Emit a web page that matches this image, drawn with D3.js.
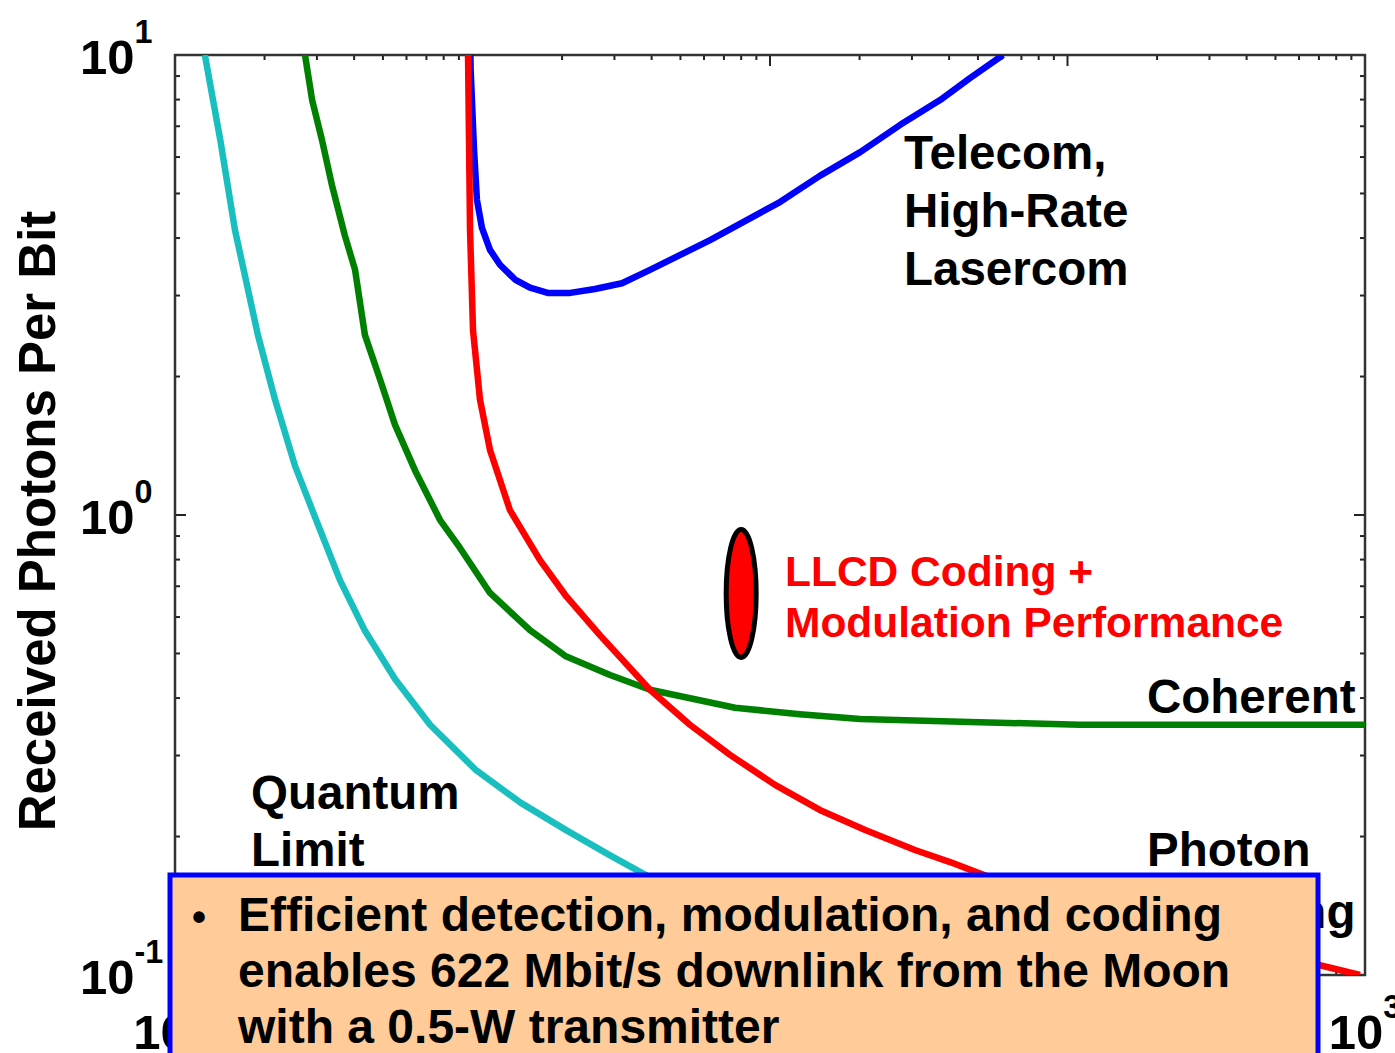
<!DOCTYPE html>
<html lang="en">
<meta charset="utf-8">
<title>Received Photons Per Bit</title>
<style>
  body { margin: 0; background: #fff; }
  svg { display: block; }
  text { font-family: Arial, "Liberation Sans", sans-serif; font-weight: bold; }
</style>
<body>
<div id="chart"></div>
<script src="https://cdn.jsdelivr.net/npm/d3@7"></script>
<script>
// Curve data (x: data rate axis, y: photons per bit)
var quantumX = [0.126, 0.142, 0.159, 0.19, 0.217, 0.253, 0.303, 0.359, 0.435, 0.549, 0.72, 1.02, 1.45, 2.05, 2.9, 3.95, 8.6, 18.6];
var quantumY = [10, 6.53, 4.17, 2.46, 1.78, 1.28, 0.95, 0.72, 0.56, 0.44, 0.35, 0.28, 0.237, 0.207, 0.182, 0.163, 0.125, 0.1];

var coherentX = [0.2735, 0.289, 0.312, 0.337, 0.372, 0.403, 0.435, 0.489, 0.549, 0.641, 0.778, 0.908, 1.145, 1.56, 2.05, 2.9, 3.95, 7.63, 12.6, 20.1, 47, 110, 1000];
var coherentY = [10, 7.98, 6.53, 5.21, 4.06, 3.41, 2.46, 1.97, 1.57, 1.25, 0.975, 0.848, 0.677, 0.562, 0.494, 0.449, 0.417, 0.381, 0.369, 0.36, 0.355, 0.35, 0.35];

var photonX = [0.966, 0.981, 1.004, 1.06, 1.145, 1.336, 1.686, 2.05, 2.68, 3.95, 5.38, 7.34, 10.4, 14.7, 20.9, 30.7, 40.3, 54.9, 189, 706, 962];
var photonY = [10, 4.17, 2.52, 1.78, 1.385, 1.025, 0.798, 0.67, 0.548, 0.417, 0.35, 0.301, 0.259, 0.2285, 0.2066, 0.187, 0.176, 0.163, 0.132, 0.105, 0.1];

var telecomX = [0.981, 1.012, 1.035, 1.076, 1.145, 1.237, 1.39, 1.56, 1.79, 2.13, 2.58, 3.18, 3.95, 6.29, 10.8, 14.7, 20.1, 27.4, 37.3, 47, 60.7];
var telecomY = [10, 6.22, 4.84, 4.21, 3.77, 3.5, 3.25, 3.12, 3.04, 3.04, 3.1, 3.19, 3.41, 3.96, 4.79, 5.46, 6.15, 7.05, 7.98, 8.91, 10];

// LLCD operating point (ellipse) : x position and y extent
var llcdX = 8;
var llcdY = [0.49, 0.93];

var xDecades = [-1, 3];          // visible x tick labels (others hidden under the box)
var yDecades = [-1, 0, 1];

var W = 1395, H = 1053;
var plotL = 175, plotR = 1365, plotT = 55, plotB = 975;

var svg = d3.select("#chart").append("svg").attr("width", W).attr("height", H);

var x = d3.scaleLog().domain([0.1, 1000]).range([plotL, plotR]);
var y = d3.scaleLog().domain([0.1, 10]).range([plotB, plotT]);

svg.append("clipPath").attr("id", "plotClip")
  .append("rect").attr("x", plotL).attr("y", plotT)
  .attr("width", plotR - plotL).attr("height", plotB - plotT);

// Ticks: inward on all four sides
var xTicks = x.ticks();
var yTicks = y.ticks();
function isMajor(v) { return Math.abs(Math.log10(v) - Math.round(Math.log10(v))) < 1e-9; }

var tickG = svg.append("g").attr("stroke", "#222").attr("stroke-width", 2);
xTicks.forEach(function(v) {
  var len = isMajor(v) ? 11 : 5;
  tickG.append("line").attr("x1", x(v)).attr("x2", x(v)).attr("y1", plotT).attr("y2", plotT + len);
  tickG.append("line").attr("x1", x(v)).attr("x2", x(v)).attr("y1", plotB).attr("y2", plotB - len);
});
yTicks.forEach(function(v) {
  var len = isMajor(v) ? 11 : 5;
  tickG.append("line").attr("y1", y(v)).attr("y2", y(v)).attr("x1", plotL).attr("x2", plotL + len);
  tickG.append("line").attr("y1", y(v)).attr("y2", y(v)).attr("x1", plotR).attr("x2", plotR - len);
});

// Frame
svg.append("rect").attr("x", plotL).attr("y", plotT)
  .attr("width", plotR - plotL).attr("height", plotB - plotT)
  .attr("fill", "none").attr("stroke", "#333").attr("stroke-width", 2.5);

// Curves
var line = d3.line().x(function(d) { return x(d[0]); }).y(function(d) { return y(d[1]); });
function series(xs, ys) { return xs.map(function(v, i) { return [v, ys[i]]; }); }

var curves = [
  { data: series(quantumX, quantumY), color: "#19BFBF" },
  { data: series(coherentX, coherentY), color: "#008000" },
  { data: series(telecomX, telecomY), color: "#0000FF" },
  { data: series(photonX, photonY), color: "#FF0000" }
];
var curveG = svg.append("g").attr("clip-path", "url(#plotClip)");
curves.forEach(function(c) {
  curveG.append("path").attr("d", line(c.data))
    .attr("fill", "none").attr("stroke", c.color)
    .attr("stroke-width", 6.5).attr("stroke-linejoin", "round");
});

// LLCD ellipse
var ey0 = y(llcdY[1]), ey1 = y(llcdY[0]);
svg.append("ellipse")
  .attr("cx", x(llcdX)).attr("cy", (ey0 + ey1) / 2)
  .attr("rx", 15).attr("ry", (ey1 - ey0) / 2)
  .attr("fill", "#FF0000").attr("stroke", "#000").attr("stroke-width", 5);

// Tick labels (10^n)
function powLabel(g, n, size) {
  var t = g.append("text").attr("font-size", size).attr("fill", "#000");
  t.append("tspan").text("10");
  t.append("tspan").attr("dy", -0.64 * size).attr("font-size", size * 0.66).text(String(n));
  return t;
}
yDecades.forEach(function(n) {
  var g = svg.append("g").attr("transform", "translate(80," + (y(Math.pow(10, n)) + 19) + ")");
  powLabel(g, n, 49);
});
xDecades.forEach(function(n) {
  var g = svg.append("g");
  var t = powLabel(g, n, 49);
  var w = t.node().getComputedTextLength();
  g.attr("transform", "translate(" + (x(Math.pow(10, n)) - w / 2) + ",1049)");
});

// Y axis title
svg.append("text")
  .attr("transform", "translate(55," + ((plotT + plotB) / 2 + 6) + ") rotate(-90)")
  .attr("text-anchor", "middle").attr("font-size", 51).attr("fill", "#000")
  .text("Received Photons Per Bit");

// Curve labels
function label(lines, x0, y0, dy, size, color) {
  var t = svg.append("text").attr("font-size", size).attr("fill", color);
  lines.forEach(function(s, i) {
    t.append("tspan").attr("x", x0).attr("y", y0 + i * dy).text(s);
  });
}
label(["Telecom,", "High-Rate", "Lasercom"], 904, 169, 58, 47.5, "#000");
label(["LLCD Coding +", "Modulation Performance"], 785, 586, 51, 42.5, "#FF0000");
label(["Coherent"], 1147, 713, 0, 47.5, "#000");
label(["Quantum", "Limit"], 251, 809, 57, 47.5, "#000");
label(["Photon", "Counting"], 1147, 866, 62, 47.5, "#000");

// Callout box
svg.append("rect").attr("x", 170).attr("y", 875)
  .attr("width", 1148).attr("height", 220)
  .attr("fill", "#FFCC99").attr("stroke", "#0000FF").attr("stroke-width", 5);

var boxLines = ["Efficient detection, modulation, and coding",
                "enables 622 Mbit/s downlink from the Moon",
                "with a 0.5-W transmitter"];
svg.append("text").attr("x", 192).attr("y", 931).attr("font-size", 40).text("\u2022");
var bt = svg.append("text").attr("font-size", 48).attr("fill", "#000");
boxLines.forEach(function(s, i) {
  bt.append("tspan").attr("x", 238).attr("y", 931 + i * 56).text(s);
});
</script>
</body>
</html>
